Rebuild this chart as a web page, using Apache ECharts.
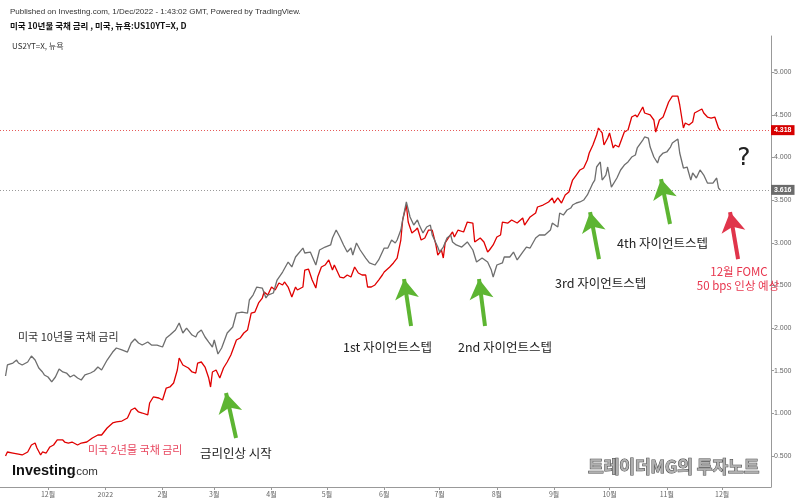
<!DOCTYPE html>
<html><head><meta charset="utf-8">
<script src="https://cdn.jsdelivr.net/npm/echarts@6/dist/echarts.min.js"></script>
<style>html,body{margin:0;padding:0;background:#fff}#c{width:800px;height:502px}</style>
</head><body><div id="c"></div>
<script>
// US 10-year yield (gray)
const dates10 = ['2021-11-08','2021-11-09','2021-11-12','2021-11-14','2021-11-15','2021-11-17','2021-11-20','2021-11-22','2021-11-24','2021-11-26','2021-11-28','2021-11-29','2021-12-01','2021-12-03','2021-12-05','2021-12-07','2021-12-09','2021-12-11','2021-12-13','2021-12-15','2021-12-17','2021-12-19','2021-12-21','2021-12-24','2021-12-26','2021-12-28','2021-12-30','2022-01-02','2022-01-05','2022-01-07','2022-01-10','2022-01-13','2022-01-15','2022-01-17','2022-01-19','2022-01-21','2022-01-24','2022-01-26','2022-01-29','2022-02-01','2022-02-03','2022-02-05','2022-02-08','2022-02-10','2022-02-12','2022-02-14','2022-02-17','2022-02-19','2022-02-20','2022-02-22','2022-02-24','2022-02-26','2022-02-28','2022-03-01','2022-03-03','2022-03-05','2022-03-08','2022-03-11','2022-03-13','2022-03-16','2022-03-19','2022-03-20','2022-03-22','2022-03-24','2022-03-27','2022-03-29','2022-03-30','2022-04-02','2022-04-04','2022-04-07','2022-04-10','2022-04-12','2022-04-14','2022-04-15','2022-04-18','2022-04-19','2022-04-22','2022-04-25','2022-04-27','2022-04-30','2022-05-03','2022-05-04','2022-05-06','2022-05-08','2022-05-10','2022-05-12','2022-05-14','2022-05-15','2022-05-17','2022-05-19','2022-05-22','2022-05-24','2022-05-27','2022-05-29','2022-05-31','2022-06-01','2022-06-03','2022-06-05','2022-06-07','2022-06-08','2022-06-10','2022-06-11','2022-06-13','2022-06-15','2022-06-17','2022-06-19','2022-06-20','2022-06-22','2022-06-24','2022-06-26','2022-06-27','2022-06-30','2022-07-01','2022-07-03','2022-07-05','2022-07-07','2022-07-08','2022-07-10','2022-07-13','2022-07-16','2022-07-17','2022-07-19','2022-07-21','2022-07-24','2022-07-27','2022-07-29','2022-07-30','2022-08-01','2022-08-04','2022-08-05','2022-08-08','2022-08-10','2022-08-12','2022-08-15','2022-08-17','2022-08-19','2022-08-22','2022-08-24','2022-08-27','2022-08-30','2022-08-31','2022-09-03','2022-09-04','2022-09-06','2022-09-08','2022-09-10','2022-09-11','2022-09-13','2022-09-15','2022-09-17','2022-09-19','2022-09-20','2022-09-22','2022-09-23','2022-09-24','2022-09-26','2022-09-27','2022-09-29','2022-09-30','2022-10-02','2022-10-03','2022-10-05','2022-10-07','2022-10-09','2022-10-11','2022-10-13','2022-10-15','2022-10-16','2022-10-19','2022-10-20','2022-10-22','2022-10-23','2022-10-25','2022-10-27','2022-10-28','2022-10-30','2022-11-01','2022-11-03','2022-11-04','2022-11-07','2022-11-08','2022-11-10','2022-11-12','2022-11-14','2022-11-15','2022-11-17','2022-11-19','2022-11-21','2022-11-23','2022-11-24','2022-11-26','2022-11-28','2022-11-29','2022-11-30'];
const us10y = [1.438,1.567,1.590,1.625,1.590,1.567,1.602,1.672,1.625,1.532,1.485,1.450,1.426,1.368,1.426,1.520,1.485,1.473,1.426,1.450,1.414,1.391,1.450,1.473,1.496,1.543,1.508,1.625,1.719,1.766,1.743,1.719,1.825,1.872,1.825,1.801,1.836,1.801,1.801,1.778,1.883,1.918,1.977,2.059,1.942,2.000,1.918,1.895,1.942,1.977,1.895,1.836,1.778,1.860,1.696,1.766,1.942,2.012,2.176,2.188,2.176,2.329,2.387,2.481,2.469,2.352,2.387,2.411,2.563,2.657,2.774,2.716,2.833,2.856,2.938,2.880,2.891,2.739,2.915,2.950,2.974,3.056,3.149,3.067,2.974,2.891,2.938,2.856,2.997,2.915,2.821,2.763,2.739,2.798,2.891,2.938,2.938,3.032,2.997,3.032,3.149,3.267,3.478,3.302,3.208,3.267,3.208,3.114,3.185,3.208,3.091,2.950,2.891,2.950,3.056,3.091,3.009,2.974,2.950,3.009,3.032,2.915,2.774,2.821,2.774,2.680,2.598,2.739,2.763,2.833,2.833,2.891,2.798,2.891,2.950,2.938,3.056,3.091,3.091,3.149,3.231,3.185,3.349,3.325,3.384,3.407,3.442,3.466,3.478,3.501,3.560,3.560,3.700,3.735,3.888,3.947,3.735,3.794,3.888,3.653,3.642,3.759,3.853,3.911,3.947,4.005,4.029,4.111,4.204,4.240,4.228,4.122,4.005,3.935,4.005,4.052,4.064,4.122,4.169,4.216,4.052,3.876,3.888,3.735,3.818,3.759,3.853,3.794,3.700,3.677,3.700,3.759,3.642,3.616];

// US 2-year yield (red)
const dates2 = ['2021-11-08','2021-11-09','2021-11-12','2021-11-15','2021-11-17','2021-11-20','2021-11-22','2021-11-24','2021-11-25','2021-11-27','2021-11-28','2021-11-30','2021-12-02','2021-12-04','2021-12-06','2021-12-09','2021-12-10','2021-12-12','2021-12-14','2021-12-17','2021-12-19','2021-12-22','2021-12-25','2021-12-28','2021-12-30','2022-01-02','2022-01-05','2022-01-07','2022-01-10','2022-01-13','2022-01-15','2022-01-17','2022-01-19','2022-01-21','2022-01-24','2022-01-25','2022-01-27','2022-01-30','2022-02-01','2022-02-03','2022-02-05','2022-02-07','2022-02-09','2022-02-10','2022-02-12','2022-02-13','2022-02-15','2022-02-17','2022-02-19','2022-02-20','2022-02-22','2022-02-24','2022-02-26','2022-02-27','2022-02-28','2022-03-02','2022-03-04','2022-03-06','2022-03-08','2022-03-10','2022-03-11','2022-03-13','2022-03-15','2022-03-17','2022-03-19','2022-03-21','2022-03-23','2022-03-25','2022-03-27','2022-03-28','2022-03-30','2022-04-01','2022-04-03','2022-04-05','2022-04-07','2022-04-08','2022-04-10','2022-04-12','2022-04-14','2022-04-15','2022-04-18','2022-04-19','2022-04-21','2022-04-23','2022-04-25','2022-04-26','2022-04-28','2022-04-30','2022-05-02','2022-05-04','2022-05-05','2022-05-08','2022-05-10','2022-05-12','2022-05-14','2022-05-16','2022-05-18','2022-05-20','2022-05-22','2022-05-23','2022-05-25','2022-05-27','2022-05-29','2022-05-31','2022-06-01','2022-06-04','2022-06-06','2022-06-08','2022-06-10','2022-06-11','2022-06-13','2022-06-14','2022-06-16','2022-06-18','2022-06-19','2022-06-21','2022-06-23','2022-06-25','2022-06-27','2022-06-29','2022-06-30','2022-07-02','2022-07-03','2022-07-04','2022-07-06','2022-07-08','2022-07-09','2022-07-11','2022-07-14','2022-07-16','2022-07-19','2022-07-20','2022-07-23','2022-07-25','2022-07-27','2022-07-28','2022-07-30','2022-08-01','2022-08-03','2022-08-04','2022-08-07','2022-08-09','2022-08-12','2022-08-15','2022-08-16','2022-08-19','2022-08-22','2022-08-23','2022-08-26','2022-08-29','2022-08-31','2022-09-01','2022-09-03','2022-09-05','2022-09-07','2022-09-09','2022-09-10','2022-09-11','2022-09-13','2022-09-15','2022-09-17','2022-09-19','2022-09-20','2022-09-22','2022-09-24','2022-09-25','2022-09-27','2022-09-28','2022-09-30','2022-10-01','2022-10-03','2022-10-04','2022-10-06','2022-10-08','2022-10-09','2022-10-11','2022-10-13','2022-10-15','2022-10-16','2022-10-19','2022-10-20','2022-10-21','2022-10-23','2022-10-25','2022-10-26','2022-10-28','2022-10-30','2022-11-01','2022-11-02','2022-11-04','2022-11-05','2022-11-07','2022-11-08','2022-11-10','2022-11-11','2022-11-13','2022-11-15','2022-11-16','2022-11-17','2022-11-20','2022-11-21','2022-11-23','2022-11-25','2022-11-27','2022-11-28','2022-11-29','2022-11-30'];
const us2y = [0.500,0.547,0.535,0.523,0.512,0.547,0.629,0.652,0.594,0.512,0.547,0.535,0.606,0.629,0.688,0.688,0.664,0.652,0.664,0.629,0.652,0.664,0.711,0.746,0.746,0.828,0.887,0.899,0.910,0.945,1.039,1.063,1.016,1.004,0.981,1.121,1.192,1.180,1.157,1.297,1.309,1.356,1.508,1.649,1.567,1.590,1.532,1.485,1.473,1.590,1.602,1.543,1.414,1.309,1.485,1.508,1.414,1.532,1.602,1.684,1.743,1.860,1.883,1.942,1.977,2.176,2.188,2.294,2.352,2.423,2.387,2.481,2.446,2.528,2.505,2.540,2.481,2.364,2.481,2.446,2.481,2.680,2.692,2.563,2.469,2.598,2.716,2.739,2.798,2.680,2.739,2.598,2.587,2.622,2.598,2.716,2.645,2.622,2.622,2.481,2.481,2.505,2.563,2.622,2.657,2.716,2.763,2.821,3.032,3.267,3.442,3.243,3.114,3.149,3.173,3.032,3.056,3.149,3.149,2.974,2.856,2.915,2.821,2.997,3.067,3.126,3.067,3.149,3.126,3.243,3.231,3.009,3.056,3.009,2.891,2.915,2.974,3.067,3.091,3.243,3.231,3.267,3.231,3.290,3.208,3.302,3.349,3.419,3.442,3.478,3.525,3.466,3.525,3.466,3.560,3.595,3.618,3.735,3.794,3.853,3.876,3.970,4.052,4.146,4.263,4.345,4.287,4.146,4.228,4.287,4.111,4.146,4.122,4.240,4.298,4.322,4.474,4.498,4.474,4.591,4.521,4.498,4.498,4.439,4.298,4.439,4.474,4.591,4.650,4.720,4.697,4.720,4.615,4.345,4.404,4.380,4.415,4.521,4.533,4.568,4.521,4.474,4.462,4.474,4.486,4.345,4.318];

// Last values shown as price tags
const last10 = 3.616;
const last2 = 4.318;

// Annotation arrows: [tailDate, tailValue, tipDate, tipValue]
const greenArrows = [
  ['2022-03-12 19:00', 0.711, '2022-03-07 09:00', 1.239],
  ['2022-06-15 13:00', 2.024, '2022-06-11 18:00', 2.575],
  ['2022-07-25 14:00', 2.024, '2022-07-22 08:00', 2.575],
  ['2022-09-25 07:00', 2.809, '2022-09-20 11:00', 3.360],
  ['2022-11-02 18:00', 3.220, '2022-10-28 21:00', 3.747]
];
const redArrows = [
  ['2022-12-09 14:00', 2.809, '2022-12-05 06:00', 3.360]
];

const FONT = '"Noto Sans CJK KR", "Noto Sans", sans-serif';
const chart = echarts.init(document.getElementById('c'), null, {renderer: 'canvas'});

function arrowItems(list, color) {
  return list.map(a => [
    {coord: [a[0], a[1]], symbol: 'none', lineStyle: {color: color, width: 4, type: 'solid'}, label: {show: false}},
    {coord: [a[2], a[3]], symbol: 'arrow', symbolSize: [18, 20], itemStyle: {color: color}, lineStyle: {color: color, width: 4, type: 'solid'}, label: {show: false}}
  ]);
}

function priceTag(value, lineColor, boxColor) {
  return {
    yAxis: value, symbol: 'none',
    lineStyle: {color: lineColor, type: [1, 2], width: 1},
    label: {show: true, position: 'end', distance: 0, formatter: value.toFixed(3),
      backgroundColor: boxColor, color: '#fff', fontSize: 7, fontWeight: 'bold',
      fontFamily: 'Liberation Sans, Arial, sans-serif', padding: [2, 3, 1, 3]}
  };
}

const monthLabel = (val) => {
  const d = new Date(val);
  if (d.getDate() !== 1 || d.getHours() !== 0) return '';
  return d.getMonth() === 0 ? String(d.getFullYear()) : (d.getMonth() + 1) + '월';
};

const texts = [
  {t: 'Published on Investing.com, 1/Dec/2022 - 1:43:02 GMT, Powered by TradingView.', x: 10, y: 12, font: '8px "Liberation Sans", Arial, sans-serif', fill: '#333'},
  {t: '미국 10년물 국채 금리 , 미국, 뉴욕:US10YT=X, D', x: 10, y: 26, font: 'bold 8.5px ' + FONT, fill: '#111'},
  {t: 'US2YT=X, 뉴욕', x: 12, y: 46, font: '8px ' + FONT, fill: '#333'},
  {t: '미국 10년물 국채 금리', x: 18, y: 337, font: '11px ' + FONT, fill: '#333'},
  {t: '미국 2년물 국채 금리', x: 88, y: 450, font: '11px ' + FONT, fill: '#e8475f'},
  {t: '금리인상 시작', x: 200, y: 453, font: '12.5px ' + FONT, fill: '#222'},
  {t: '1st 자이언트스텝', x: 343, y: 347, font: '12.5px ' + FONT, fill: '#222'},
  {t: '2nd 자이언트스텝', x: 458, y: 347, font: '12.5px ' + FONT, fill: '#222'},
  {t: '3rd 자이언트스텝', x: 555, y: 283, font: '12.5px ' + FONT, fill: '#222'},
  {t: '4th 자이언트스텝', x: 617, y: 243, font: '12.5px ' + FONT, fill: '#222'},
  {t: '12월 FOMC', x: 739, y: 272, font: '11.5px ' + FONT, fill: '#e8364e', align: 'center'},
  {t: '50 bps 인상 예상', x: 738, y: 286, font: '11.5px ' + FONT, fill: '#e8364e', align: 'center'},
  {t: '?', x: 744, y: 158, font: '25px "DejaVu Sans", sans-serif', fill: '#222', align: 'center'},
  {t: 'Investing', x: 12, y: 471, font: 'bold 14.5px "Liberation Sans", Arial, sans-serif', fill: '#111'},
  {t: '.com', x: 73, y: 472, font: '11.5px "Liberation Sans", Arial, sans-serif', fill: '#333'}
];

const graphic = texts.map(o => ({
  type: 'text', x: o.x, y: o.y, silent: true, z: 100,
  style: {text: o.t, font: o.font, fill: o.fill, align: o.align || 'left', verticalAlign: 'middle'}
}));
graphic.push({
  type: 'text', x: 588, y: 467, silent: true, z: 100,
  style: {text: '트레이더MG의 투자노트', font: 'bold 17px ' + FONT, fill: '#b0b0b0',
    stroke: '#444', lineWidth: 1, align: 'left', verticalAlign: 'middle'}
});

const option = {
  animation: false,
  backgroundColor: '#fff',
  grid: {left: 0, right: 29, top: 36, bottom: 15, containLabel: false},
  xAxis: {
    type: 'time', min: '2021-11-05', max: '2022-12-27 10:00', splitNumber: 13,
    axisLine: {show: true, lineStyle: {color: '#999', width: 1}},
    axisTick: {show: true, length: 3, lineStyle: {color: '#999'}},
    axisLabel: {formatter: monthLabel, fontSize: 7, color: '#666', margin: 4, fontFamily: FONT,
      showMinLabel: false, showMaxLabel: false, hideOverlap: false},
    splitLine: {show: false}
  },
  yAxis: {
    type: 'value', position: 'right', min: 0.1366, max: 5.4238,
    minInterval: 0.5, maxInterval: 0.5,
    axisLine: {show: true, lineStyle: {color: '#999', width: 1}},
    axisTick: {show: true, length: 3, lineStyle: {color: '#999'}},
    axisLabel: {formatter: v => v.toFixed(3), fontSize: 7, color: '#666', margin: 3,
      fontFamily: '"Liberation Sans", Arial, sans-serif', showMinLabel: false, showMaxLabel: false},
    splitLine: {show: false}
  },
  series: [
    {
      type: 'line', name: 'US10Y', z: 3,
      data: dates10.map((d, i) => [d, us10y[i]]),
      showSymbol: false, symbol: 'none',
      lineStyle: {color: '#6e6e6e', width: 1.3}, itemStyle: {color: '#6e6e6e'},
      markLine: {silent: true, animation: false, symbol: 'none',
        data: [priceTag(last10, '#9a9a9a', '#6b6b6b')]}
    },
    {
      type: 'line', name: 'US2Y', z: 2,
      data: dates2.map((d, i) => [d, us2y[i]]),
      showSymbol: false, symbol: 'none',
      lineStyle: {color: '#e00000', width: 1.3}, itemStyle: {color: '#e00000'},
      markLine: {silent: true, animation: false, symbol: 'none',
        data: [priceTag(last2, '#e65a5a', '#d60000')]}
    },
    {
      type: 'line', name: 'arrows', z: 5, data: [['2022-01-01', null]],
      showSymbol: false, symbol: 'none', lineStyle: {width: 0},
      markLine: {silent: true, animation: false, symbol: ['none', 'arrow'], label: {show: false},
        data: arrowItems(greenArrows, '#5db532').concat(arrowItems(redArrows, '#e0354b'))}
    }
  ],
  graphic: graphic
};
chart.setOption(option);
</script>
</body></html>
